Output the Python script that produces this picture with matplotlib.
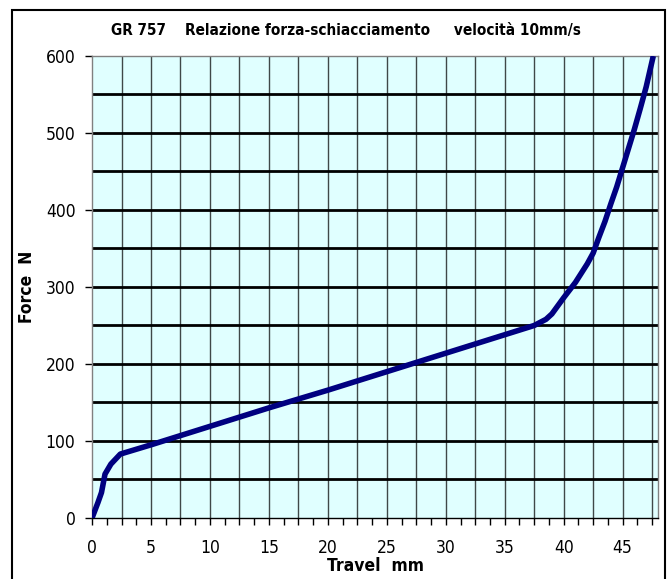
import matplotlib
matplotlib.use("Agg")
import matplotlib.pyplot as plt
from matplotlib import font_manager
from matplotlib.patches import Rectangle
from matplotlib.ticker import MultipleLocator

# dati
travel = [0.0, 0.5, 0.8, 1.1, 1.6, 2.4, 5, 10, 15, 20, 25, 30, 35, 37.5,
          38.5, 39, 40, 41, 42, 42.5, 43, 43.5, 44, 44.5, 45, 45.5, 46,
          46.5, 47, 47.6]
force = [0, 20, 33, 57, 70, 83, 95, 119, 143, 166, 190, 214, 238, 250,
         258, 265, 286, 306, 330, 344, 365, 385, 408, 430, 455, 480, 505,
         532, 560, 600]

TITLE = "GR 757    Relazione forza-schiacciamento     velocità 10mm/s"
XLABEL = "Travel  mm"
YLABEL = "Force  N"

# cerca un font stretto (tipo Arial Narrow) se presente
narrow = None
for f in font_manager.fontManager.ttflist:
    if "Narrow" in f.name or "Condensed" in f.name or f.stretch in ("condensed", "semi-condensed"):
        narrow = f
        break

if narrow is not None:
    plt.rcParams["font.family"] = [narrow.name, "Liberation Sans", "DejaVu Sans"]
    if narrow.stretch in ("condensed", "semi-condensed"):
        plt.rcParams["font.stretch"] = narrow.stretch
else:
    plt.rcParams["font.family"] = ["Liberation Sans", "DejaVu Sans"]

fig = plt.figure(figsize=(6.67, 5.79), dpi=100)
ax = fig.add_axes([0.138, 0.1054, 0.8485, 0.7979])
ax.set_facecolor("#e0ffff")

ax.set_xlim(0, 48)
ax.set_ylim(0, 600)

# griglia
ax.xaxis.set_major_locator(MultipleLocator(5))
ax.xaxis.set_minor_locator(MultipleLocator(1.25))
ax.yaxis.set_major_locator(MultipleLocator(100))
ax.yaxis.set_minor_locator(MultipleLocator(50))
for xv in [i * 2.5 for i in range(1, 20)]:
    ax.axvline(xv, color="#404848", lw=1, zorder=1)
for yv in range(50, 600, 50):
    ax.axhline(yv, color="black", lw=2, zorder=1)

ax.plot(travel, force, color="#000080", lw=4, zorder=3, solid_capstyle="butt")

ax.tick_params(axis="x", which="major", direction="out", length=5, width=1,
               labelsize=12.5, pad=10, color="black")
ax.tick_params(axis="x", which="minor", direction="out", length=5, width=1, color="black")
ax.tick_params(axis="y", which="major", direction="out", length=5, width=1,
               labelsize=12.5, pad=7, color="black")
ax.tick_params(axis="y", which="minor", length=0)

for s in ["top", "right", "left"]:
    ax.spines[s].set_color("#808080")
    ax.spines[s].set_linewidth(1)
ax.spines["bottom"].set_color("black")
ax.spines["bottom"].set_linewidth(1)

ax.set_xlabel(XLABEL, fontsize=12.5, fontweight="bold", labelpad=0)
ax.set_ylabel(YLABEL, fontsize=12.5, fontweight="bold", labelpad=7)
fig.text(0.519, 0.948, TITLE, ha="center", va="center", fontsize=11, fontweight="bold")

# cornice esterna
fig.patches.append(Rectangle((0.0175, -0.05), 0.98, 1.033, transform=fig.transFigure,
                             fill=False, edgecolor="black", lw=1.5))

fig.savefig("out.png", dpi=100)
